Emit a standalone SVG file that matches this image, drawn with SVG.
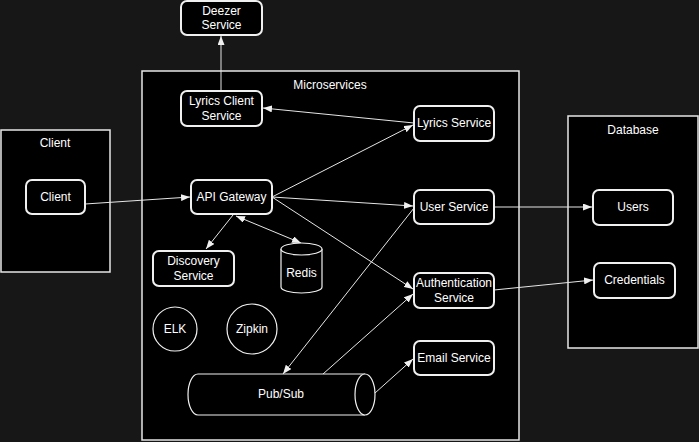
<svg xmlns="http://www.w3.org/2000/svg" width="699" height="442" viewBox="0 0 699 442">
<style>
.bg{fill:#171717}
.cont{fill:#000;stroke:#e6e6e6;stroke-width:1.5}
.node{fill:#000;stroke:#f0f0f0;stroke-width:2}
.shape{fill:#000;stroke:#f0f0f0;stroke-width:1.2}
text{font-family:"Liberation Sans",Arial,Helvetica,sans-serif;font-size:12px;fill:#fff;text-anchor:middle;dominant-baseline:central}
.edge{fill:none;stroke:#e6e6e6;stroke-width:1}
</style>
<defs>
<marker id="arr" viewBox="0 0 9 7" refX="9" refY="3.5" markerWidth="9" markerHeight="7" markerUnits="userSpaceOnUse" orient="auto-start-reverse">
<path d="M0,0 L9,3.5 L0,7 z" fill="#f0f0f0"/>
</marker>
</defs>
<rect class="bg" x="0" y="0" width="699" height="442"/>

<g id="client-container">
<rect class="cont" x="1" y="130" width="109" height="142"/>
<text x="55" y="143">Client</text>
</g>
<g id="microservices-container">
<rect class="cont" x="142" y="71" width="377" height="369"/>
<text x="330" y="85">Microservices</text>
</g>
<g id="database-container">
<rect class="cont" x="568" y="116" width="130" height="232"/>
<text x="633" y="130">Database</text>
</g>

<g id="edges">
<line class="edge" x1="221" y1="91" x2="221" y2="36" marker-end="url(#arr)"/>
<line class="edge" x1="414" y1="123" x2="263" y2="108" marker-end="url(#arr)"/>
<line class="edge" x1="85" y1="204" x2="190" y2="197" marker-end="url(#arr)"/>
<line class="edge" x1="272" y1="197" x2="413" y2="125" marker-end="url(#arr)"/>
<line class="edge" x1="272" y1="197" x2="413" y2="206" marker-end="url(#arr)"/>
<line class="edge" x1="272" y1="197" x2="413" y2="289" marker-end="url(#arr)"/>
<line class="edge" x1="233" y1="215" x2="206" y2="249" marker-end="url(#arr)"/>
<line class="edge" x1="236" y1="216" x2="301" y2="243" marker-start="url(#arr)" marker-end="url(#arr)"/>
<line class="edge" x1="414" y1="208" x2="283" y2="374" marker-end="url(#arr)"/>
<line class="edge" x1="323" y1="374" x2="413" y2="294" marker-end="url(#arr)"/>
<line class="edge" x1="375" y1="393" x2="413" y2="359" marker-end="url(#arr)"/>
<line class="edge" x1="494" y1="207" x2="592" y2="207" marker-end="url(#arr)"/>
<line class="edge" x1="494" y1="290" x2="593" y2="280" marker-end="url(#arr)"/>
</g>

<g id="deezer-service">
<rect class="node" x="181" y="1" width="81" height="34" rx="6"/>
<text x="221.5" y="11">Deezer</text>
<text x="221.5" y="25">Service</text>
</g>
<g id="lyrics-client-service">
<rect class="node" x="181" y="91" width="81" height="35" rx="6"/>
<text x="221.5" y="101">Lyrics Client</text>
<text x="221.5" y="116">Service</text>
</g>
<g id="lyrics-service">
<rect class="node" x="414" y="106" width="80" height="35" rx="6"/>
<text x="454" y="123">Lyrics Service</text>
</g>
<g id="client">
<rect class="node" x="26" y="180" width="59" height="34" rx="6"/>
<text x="55.5" y="197">Client</text>
</g>
<g id="api-gateway">
<rect class="node" x="191" y="180" width="81" height="34" rx="6"/>
<text x="231.5" y="197">API Gateway</text>
</g>
<g id="user-service">
<rect class="node" x="414" y="190" width="80" height="34" rx="6"/>
<text x="454" y="207">User Service</text>
</g>
<g id="discovery-service">
<rect class="node" x="153" y="251" width="81" height="35" rx="6"/>
<text x="193.5" y="261">Discovery</text>
<text x="193.5" y="276">Service</text>
</g>
<g id="redis">
<path class="shape" d="M281,249 a20.5,6 0 0,1 41,0 v38 a20.5,6 0 0,1 -41,0 z"/>
<path class="shape" fill="none" d="M281,249 a20.5,6 0 0,0 41,0"/>
<text x="301.5" y="273">Redis</text>
</g>
<g id="authentication-service">
<rect class="node" x="414" y="273" width="80" height="35" rx="6"/>
<text x="454" y="283">Authentication</text>
<text x="454" y="298">Service</text>
</g>
<g id="email-service">
<rect class="node" x="414" y="341" width="80" height="34" rx="6"/>
<text x="454" y="358">Email Service</text>
</g>
<g id="elk">
<circle class="shape" cx="175" cy="329" r="22"/>
<text x="175" y="329">ELK</text>
</g>
<g id="zipkin">
<circle class="shape" cx="252" cy="329" r="25"/>
<text x="252" y="329">Zipkin</text>
</g>
<g id="pubsub">
<path class="shape" d="M198,374 H365 a10,20.5 0 0,1 0,41 H198 a10,20.5 0 0,1 0,-41 z"/>
<path class="shape" fill="none" d="M365,374 a10,20.5 0 0,0 0,41"/>
<text x="281" y="394">Pub/Sub</text>
</g>
<g id="users">
<rect class="node" x="593" y="190" width="80" height="35" rx="6"/>
<text x="633" y="207">Users</text>
</g>
<g id="credentials">
<rect class="node" x="594" y="263" width="81" height="35" rx="6"/>
<text x="634.5" y="280">Credentials</text>
</g>
</svg>
